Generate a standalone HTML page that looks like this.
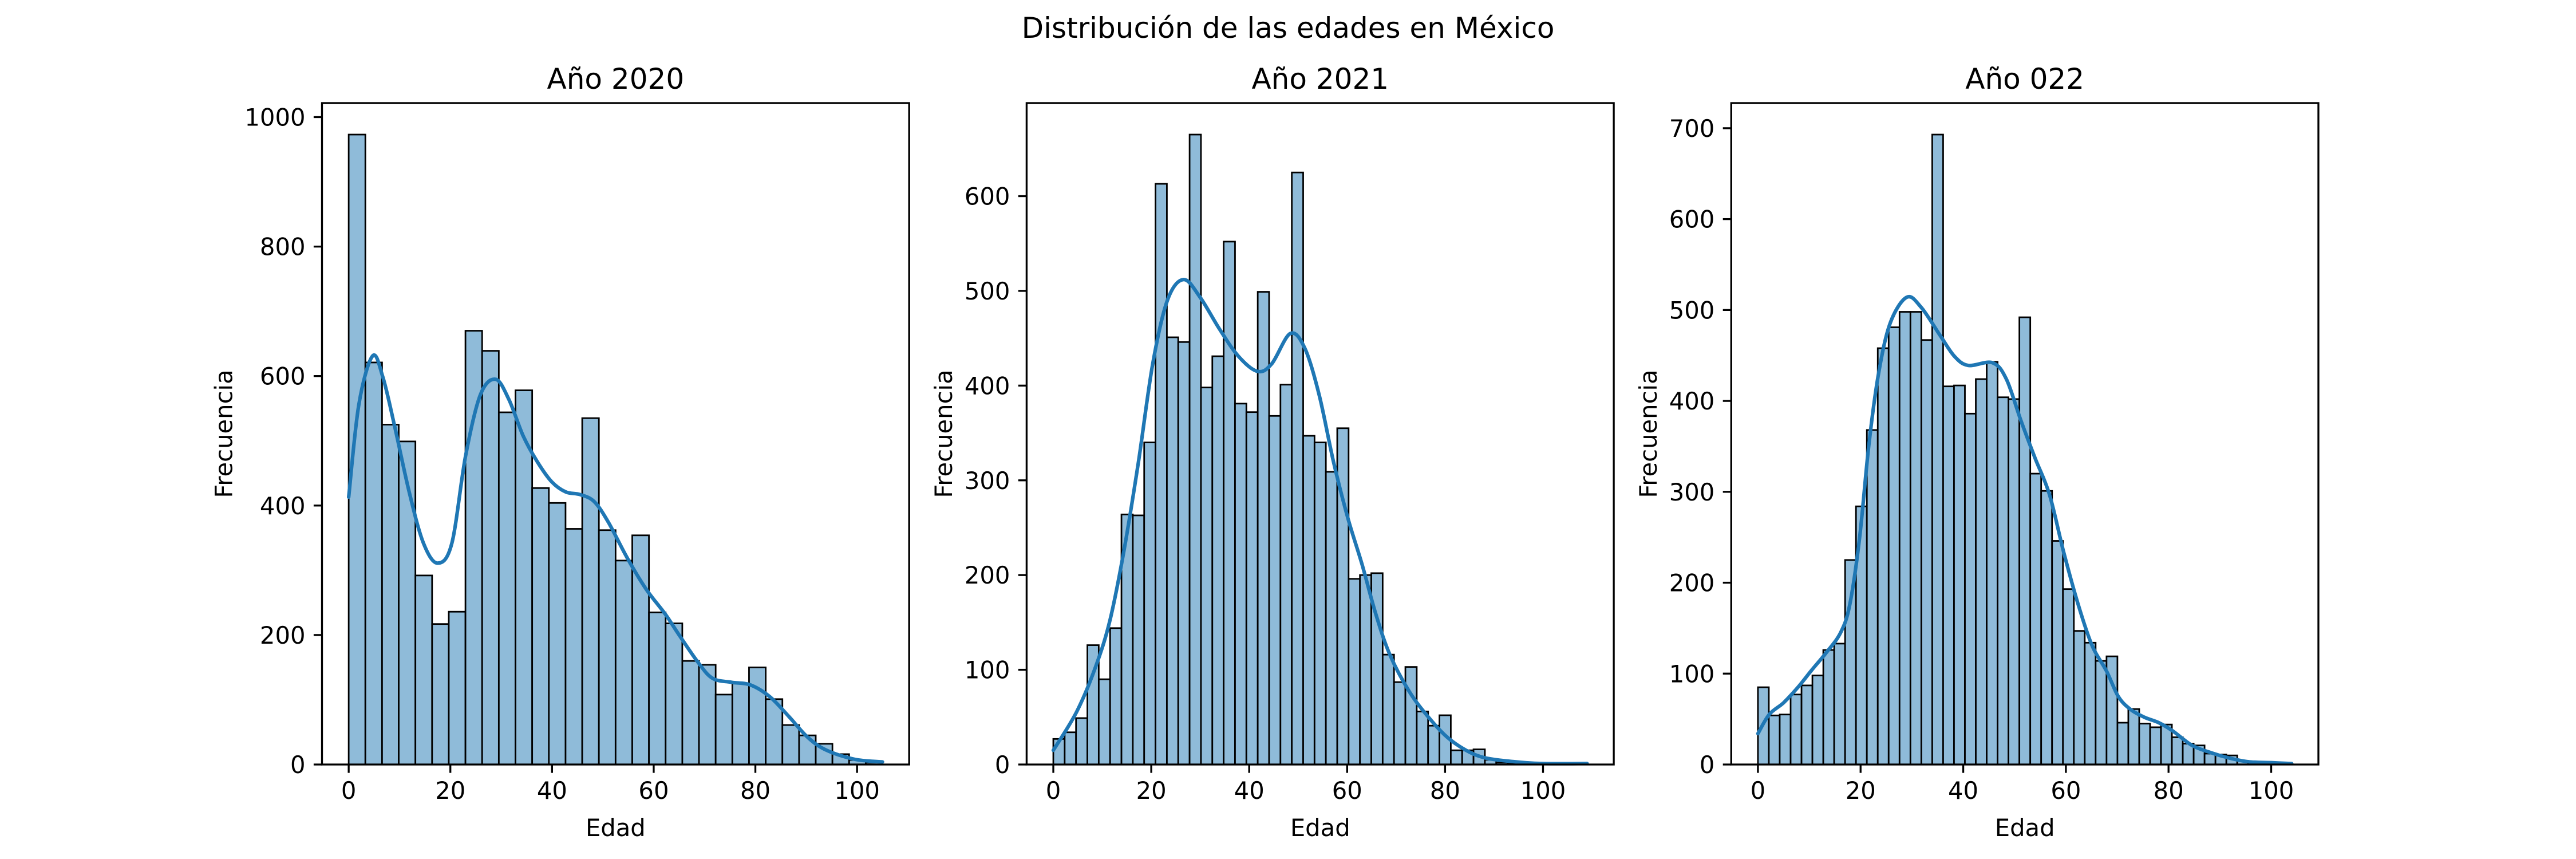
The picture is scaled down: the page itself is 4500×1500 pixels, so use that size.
<!DOCTYPE html>
<html><head><meta charset="utf-8"><style>
html,body{margin:0;padding:0;background:#fff;}
svg{display:block;}
text{font-family:"DejaVu Sans","Liberation Sans",sans-serif;fill:#000;}
</style></head><body>
<svg id="fig" width="4500" height="1500" viewBox="0 0 4500 1500" xmlns="http://www.w3.org/2000/svg">
<rect width="4500" height="1500" fill="#fff"/>
<text x="2250" y="66" font-size="50" text-anchor="middle">Distribución de las edades en México</text>
</svg>
<script>
// ---- Panel 1: 2020 ----
const p1Title = "Año 2020";
const p1Range = [0, 105];
const p1Counts = [973,621,525,499,292,217,236,670,639,544,578,427,404,364,535,362,315,354,235,218,160,154,108,125,150,101,61,45,32,16,7,3];
const p1KdeX = [0,2,4.7,6.7,9,11.9,14.7,17.5,20.3,23,25.9,28.9,31.5,34.3,37,39.9,42.7,45.5,48.3,51.1,54.8,58.5,62.3,65,68.8,71.6,75.3,79,82.8,86.6,90.3,94,99.6,105];
const p1KdeY = [413,556,631,599,524,421,342,311,342,477,571,595,564,508,469,437,421,417,406,374,319,271,232,200,157,133,127,123,105,74,42,22,8,4];
const p1YTicks = [0,200,400,600,800,1000];
// ---- Panel 2: 2021 ----
const p2Title = "Año 2021";
const p2Range = [0, 109];
const p2Counts = [27,34,49,126,90,144,264,263,340,613,451,446,665,398,431,552,381,372,499,368,401,625,347,340,309,355,196,200,202,116,87,103,56,41,52,15,15,16,5,2,1,1,0,0,0,0,1];
const p2KdeX = [0,4.8,8.7,11.6,14.5,17.4,20.3,23.3,26.6,30,33.9,37.8,41.7,44.6,48.4,51.4,54.3,57.2,60.1,63,65.9,68.8,72.7,76.6,80.4,84.3,88.2,94,99.8,109];
const p2KdeY = [15,56,104,153,228,320,423,490,512,493,460,431,415,423,455,439,390,320,261,212,158,115,77,50,29,15,7,3,1,1];
const p2YTicks = [0,100,200,300,400,500,600];
// ---- Panel 3: 2022 ----
const p3Title = "Año 022";
const p3Range = [0, 104];
const p3Counts = [85,54,55,77,87,98,126,133,225,284,368,458,481,498,498,467,693,416,417,386,424,443,404,402,492,320,301,246,193,147,134,114,119,46,61,45,41,44,30,23,21,12,11,10,4,3,2,1,1];
const p3KdeX = [0,2.2,5,7.8,10.5,13.3,16.1,17.9,19.8,21.6,23.5,25.8,29,31.8,35.5,38.3,41,45.7,48.4,51.2,54,56.8,59.6,62.4,65.1,67.9,70.2,72.5,75.3,78.1,80.8,84.6,88.3,91.9,95.6,100,104];
const p3KdeY = [34,55,68,85,104,123,145,176,249,351,430,486,514,503,472,449,439,442,424,379,337,297,233,176,131,103,75,61,52,46,37,21,13,7,3,2,1];
const p3YTicks = [0,100,200,300,400,500,600,700];
const xTicks = [0,20,40,60,80,100];

const NS = "http://www.w3.org/2000/svg";
const svg = document.getElementById('fig');
function mk(tag, attrs, parent){
  const e = document.createElementNS(NS, tag);
  for (const k in attrs) e.setAttribute(k, attrs[k]);
  (parent||svg).appendChild(e);
  return e;
}
const AX_W = 1025.7, AX_TOP = 180, AX_BOT = 1335;
const axLefts = [562.5, 1793.4, 3024.3];

function smoothPath(pts){
  let d = 'M' + pts[0][0].toFixed(1) + ' ' + pts[0][1].toFixed(1);
  for (let i=0;i<pts.length-1;i++){
    const p0 = pts[Math.max(i-1,0)], p1 = pts[i], p2 = pts[i+1], p3 = pts[Math.min(i+2,pts.length-1)];
    const c1x = p1[0] + (p2[0]-p0[0])/6, c1y = p1[1] + (p2[1]-p0[1])/6;
    const c2x = p2[0] - (p3[0]-p1[0])/6, c2y = p2[1] - (p3[1]-p1[1])/6;
    d += 'C' + c1x.toFixed(1)+' '+c1y.toFixed(1)+' '+c2x.toFixed(1)+' '+c2y.toFixed(1)+' '+p2[0].toFixed(1)+' '+p2[1].toFixed(1);
  }
  return d;
}

function panel(idx, title, range, counts, kx, ky, yTicks){
  const L = axLefts[idx];
  const span = range[1]-range[0];
  const xmin = range[0]-0.05*span, xmax = range[1]+0.05*span;
  const ymax = Math.max(...counts)*1.05;
  const xs = v => L + (v-xmin)/(xmax-xmin)*AX_W;
  const ys = v => AX_BOT - v/ymax*(AX_BOT-AX_TOP);
  const g = mk('g', {});
  
  
  const bw = span/counts.length;
  counts.forEach((c,i)=>{
    const x0 = xs(range[0]+i*bw), x1 = xs(range[0]+(i+1)*bw);
    const r = mk('rect', {x:x0, y:ys(c), width:x1-x0, height:AX_BOT-ys(c), fill:'#8fbbd9', stroke:'#000', 'stroke-width':2.8}, g);
    
    
  });
  const pts = kx.map((v,i)=>[xs(v), ys(ky[i])]);
  const p = mk('path', {d:smoothPath(pts), fill:'none', stroke:'#1f77b4', 'stroke-width':6.25, 'stroke-linejoin':'round', 'stroke-linecap':'round'}, g);
  
  
  const fr = mk('rect', {x:L, y:AX_TOP, width:AX_W, height:AX_BOT-AX_TOP, fill:'none', stroke:'#000', 'stroke-width':3.33}, g);
  
  
  xTicks.forEach(t=>{
    const x = xs(t);
    mk('line', {x1:x, x2:x, y1:AX_BOT, y2:AX_BOT+14.6, stroke:'#000', 'stroke-width':3.33}, g);
    const tx = mk('text', {x:x, y:AX_BOT+60, 'font-size':41.7, 'text-anchor':'middle'}, g);
    tx.textContent = t;
    
    
  });
  yTicks.forEach(t=>{
    const y = ys(t);
    mk('line', {x1:L-14.6, x2:L, y1:y, y2:y, stroke:'#000', 'stroke-width':3.33}, g);
    const tx = mk('text', {x:L-29, y:y+15, 'font-size':41.7, 'text-anchor':'end'}, g);
    tx.textContent = t;
    
    
  });
  const tt = mk('text', {x:L+AX_W/2, y:AX_TOP-25, 'font-size':50, 'text-anchor':'middle'}, g);
  tt.textContent = title;
  
  
  const xl = mk('text', {x:L+AX_W/2, y:1460, 'font-size':41.7, 'text-anchor':'middle'}, g);
  xl.textContent = 'Edad';
  
  
  const maxLab = String(yTicks[yTicks.length-1]).length;
  const lx = L - 29 - maxLab*26.5 - 22;
  const yl = mk('text', {x:lx, y:(AX_TOP+AX_BOT)/2, 'font-size':41.7, 'text-anchor':'middle', transform:`rotate(-90 ${lx} ${(AX_TOP+AX_BOT)/2})`}, g);
  yl.textContent = 'Frecuencia';
  
  
}
panel(0, p1Title, p1Range, p1Counts, p1KdeX, p1KdeY, p1YTicks);
panel(1, p2Title, p2Range, p2Counts, p2KdeX, p2KdeY, p2YTicks);
panel(2, p3Title, p3Range, p3Counts, p3KdeX, p3KdeY, p3YTicks);
</script>
</body></html>
